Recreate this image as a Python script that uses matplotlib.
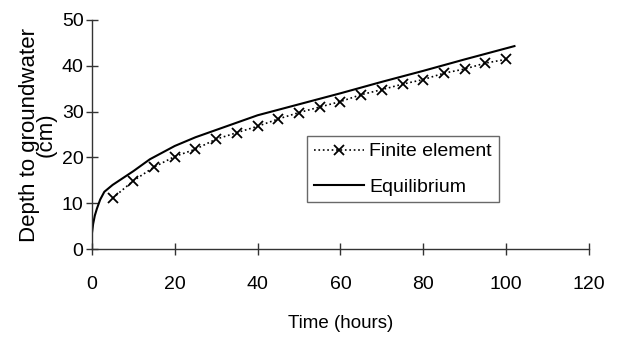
import matplotlib
matplotlib.use("Agg")
import matplotlib.pyplot as plt

plt.rcParams['font.family'] = ['Liberation Sans', 'DejaVu Sans']

# Finite element results
fe_time = [5, 10, 15, 20, 25, 30, 35, 40, 45, 50, 55, 60, 65, 70, 75, 80, 85, 90, 95, 100]
fe_depth = [11.1, 14.9, 17.9, 20.2, 21.8, 24.0, 25.4, 26.8, 28.4, 29.8, 31.0, 32.2,
            33.7, 34.8, 36.0, 37.0, 38.4, 39.3, 40.6, 41.4]

# Equilibrium curve
eq_time = [0, 0.3, 0.7, 1.2, 2, 3, 5, 7, 10, 14, 20, 25, 30, 40, 50, 60, 70, 80, 90, 102]
eq_depth = [3.4, 5.5, 7.3, 8.8, 10.8, 12.5, 14.0, 15.2, 17.0, 19.6, 22.5, 24.4, 26.0,
            29.2, 31.6, 34.0, 36.5, 38.9, 41.4, 44.3]

x_ticks = [0, 20, 40, 60, 80, 100, 120]
y_ticks = [0, 10, 20, 30, 40, 50]

fig = plt.figure(figsize=(6.21, 3.37), dpi=100)
ax = fig.add_axes([0.148, 0.261, 0.8005, 0.6797])

ax.plot(fe_time, fe_depth, linestyle=':', color='black', linewidth=1.2,
        marker='x', markersize=7.5, markeredgewidth=1.3, label='Finite element')
ax.plot(eq_time, eq_depth, linestyle='-', color='black', linewidth=1.5,
        label='Equilibrium')

ax.set_xlim(0, 120)
ax.set_ylim(0, 50)
ax.set_xticks(x_ticks)
ax.set_yticks(y_ticks)
ax.tick_params(direction='inout', length=9, width=1, colors='#333333',
               labelsize=14, labelcolor='black')
ax.tick_params(axis='x', pad=15)
ax.tick_params(axis='y', pad=1.5)

for s in ['top', 'right']:
    ax.spines[s].set_visible(False)
for s in ['left', 'bottom']:
    ax.spines[s].set_color('#333333')
    ax.spines[s].set_linewidth(1.0)

ax.set_xlabel('Time (hours)', fontsize=13.5, labelpad=16)
ax.set_ylabel('Depth to groundwater\n(cm)', fontsize=16, labelpad=0,
              linespacing=0.75)
ax.yaxis.set_label_coords(-0.07, 0.5)

leg = ax.legend(loc='upper left', bbox_to_anchor=(0.4326, 0.4934), frameon=True,
                fancybox=False, edgecolor='#444444', fontsize=14,
                handlelength=2.6, handletextpad=0.25, borderpad=0.35,
                labelspacing=0.9, borderaxespad=0)
leg.get_frame().set_linewidth(1.0)

fig.savefig('out.png', dpi=100)
